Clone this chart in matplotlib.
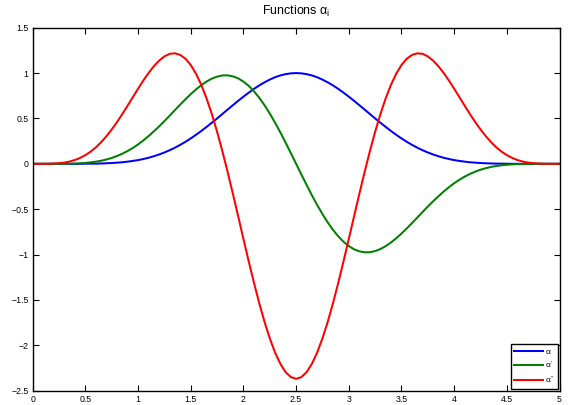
import numpy as np
import matplotlib
matplotlib.use('Agg')
import matplotlib.pyplot as plt

plt.rcParams['font.family'] = ['Liberation Sans', 'DejaVu Sans']
plt.rcParams['mathtext.fontset'] = 'custom'
plt.rcParams['mathtext.rm'] = 'Liberation Sans'
plt.rcParams['mathtext.it'] = 'Liberation Sans'
plt.rcParams['mathtext.bf'] = 'Liberation Sans:bold'

# sampling grid (x from 0 to 5, step 0.05)
x = np.linspace(0, 5, 101)

alpha = [0, 0, 0, 0, 0, 0, 0, 0, 0, 0, 0.001, 0.002, 0.002, 0.004, 0.006, 0.009, 0.013, 0.017, 0.024, 0.032,
         0.041, 0.053, 0.067, 0.084, 0.103, 0.125, 0.150, 0.178, 0.209, 0.243, 0.280, 0.320, 0.362, 0.407, 0.453,
         0.500, 0.549, 0.598, 0.646, 0.694, 0.740, 0.784, 0.826, 0.864, 0.898, 0.928, 0.954, 0.974, 0.988, 0.997,
         1.000,
         0.997, 0.988, 0.974, 0.954, 0.928, 0.898, 0.864, 0.826, 0.784, 0.740, 0.694, 0.646, 0.598, 0.549, 0.500,
         0.453, 0.407, 0.362, 0.320, 0.280, 0.243, 0.209, 0.178, 0.150, 0.125, 0.103, 0.084, 0.067, 0.053, 0.041,
         0.032, 0.024, 0.017, 0.013, 0.009, 0.006, 0.004, 0.002, 0.002, 0.001, 0, 0, 0, 0, 0, 0, 0, 0, 0, 0]

alpha_p = [0, 0, 0, 0, 0, 0, 0.001, 0.002, 0.003, 0.006, 0.010, 0.016, 0.024, 0.034, 0.048, 0.065, 0.086, 0.111,
           0.141, 0.175, 0.214, 0.258, 0.306, 0.358, 0.413, 0.471, 0.531, 0.592, 0.653, 0.712, 0.768, 0.820, 0.867,
           0.907, 0.939, 0.961, 0.974, 0.975, 0.964, 0.942, 0.906, 0.859, 0.799, 0.728, 0.646, 0.554, 0.454, 0.347,
           0.234, 0.118, 0.000,
           -0.118, -0.234, -0.347, -0.454, -0.554, -0.646, -0.728, -0.799, -0.859, -0.906, -0.942, -0.964, -0.975,
           -0.974, -0.961, -0.939, -0.907, -0.867, -0.820, -0.768, -0.712, -0.653, -0.592, -0.531, -0.471, -0.413,
           -0.358, -0.306, -0.258, -0.214, -0.175, -0.141, -0.111, -0.086, -0.065, -0.048, -0.034, -0.024, -0.016,
           -0.010, -0.006, -0.003, -0.002, -0.001, 0, 0, 0, 0, 0, 0]

alpha_pp = [0, 0, 0, 0.001, 0.003, 0.007, 0.014, 0.025, 0.042, 0.065, 0.096, 0.134, 0.182, 0.239, 0.305, 0.379,
            0.460, 0.548, 0.640, 0.734, 0.828, 0.918, 1.002, 1.076, 1.138, 1.184, 1.212, 1.218, 1.200, 1.158, 1.089,
            0.993, 0.870, 0.721, 0.548, 0.353, 0.139, -0.090, -0.331, -0.578, -0.828, -1.074, -1.311, -1.535,
            -1.741, -1.923, -2.079, -2.203, -2.295, -2.350, -2.369,
            -2.350, -2.295, -2.203, -2.079, -1.923, -1.741, -1.535, -1.311, -1.074, -0.828, -0.578, -0.331, -0.090,
            0.139, 0.353, 0.548, 0.721, 0.870, 0.993, 1.089, 1.158, 1.200, 1.218, 1.212, 1.184, 1.138, 1.076, 1.002,
            0.918, 0.828, 0.734, 0.640, 0.548, 0.460, 0.379, 0.305, 0.239, 0.182, 0.134, 0.096, 0.065, 0.042, 0.025,
            0.014, 0.007, 0.003, 0.001, 0, 0, 0]

series_labels = [r'$\alpha$', r"$\alpha'$", r"$\alpha''$"]
series_colors = ['#0000ff', '#008000', '#ff0000']

xticks = [0, 0.5, 1, 1.5, 2, 2.5, 3, 3.5, 4, 4.5, 5]
xticklabels = ['0', '0.5', '1', '1.5', '2', '2.5', '3', '3.5', '4', '4.5', '5']
yticks = [-2.5, -2, -1.5, -1, -0.5, 0, 0.5, 1, 1.5]
yticklabels = ['\u22122.5', '\u22122', '\u22121.5', '\u22121', '\u22120.5', '0', '0.5', '1', '1.5']

fig = plt.figure(figsize=(5.76, 4.05), dpi=100)
ax = fig.add_axes([0.0568, 0.0353, 0.9146, 0.8963])

for ys, lab, col in zip([alpha, alpha_p, alpha_pp], series_labels, series_colors):
    ax.plot(x, ys, color=col, lw=1.45, label=lab)

ax.set_xlim(0, 5)
ax.set_ylim(-2.5, 1.5)
ax.set_xticks(xticks)
ax.set_xticklabels(xticklabels)
ax.set_yticks(yticks)
ax.set_yticklabels(yticklabels)
ax.tick_params(direction='in', top=True, right=True, length=4, width=0.8,
               labelsize=6.3, pad=3, colors='black')
for sp in ax.spines.values():
    sp.set_linewidth(1.0)

ax.set_title(r'Functions $\alpha_i$', fontsize=9, pad=9)

leg = ax.legend(loc='lower right', fontsize=6, handlelength=3.4, handletextpad=0.3,
                labelspacing=0.45, borderpad=0.4, borderaxespad=0.2,
                fancybox=False, edgecolor='black', framealpha=1)
leg.get_frame().set_linewidth(1.0)

fig.savefig('out.png', dpi=100)
